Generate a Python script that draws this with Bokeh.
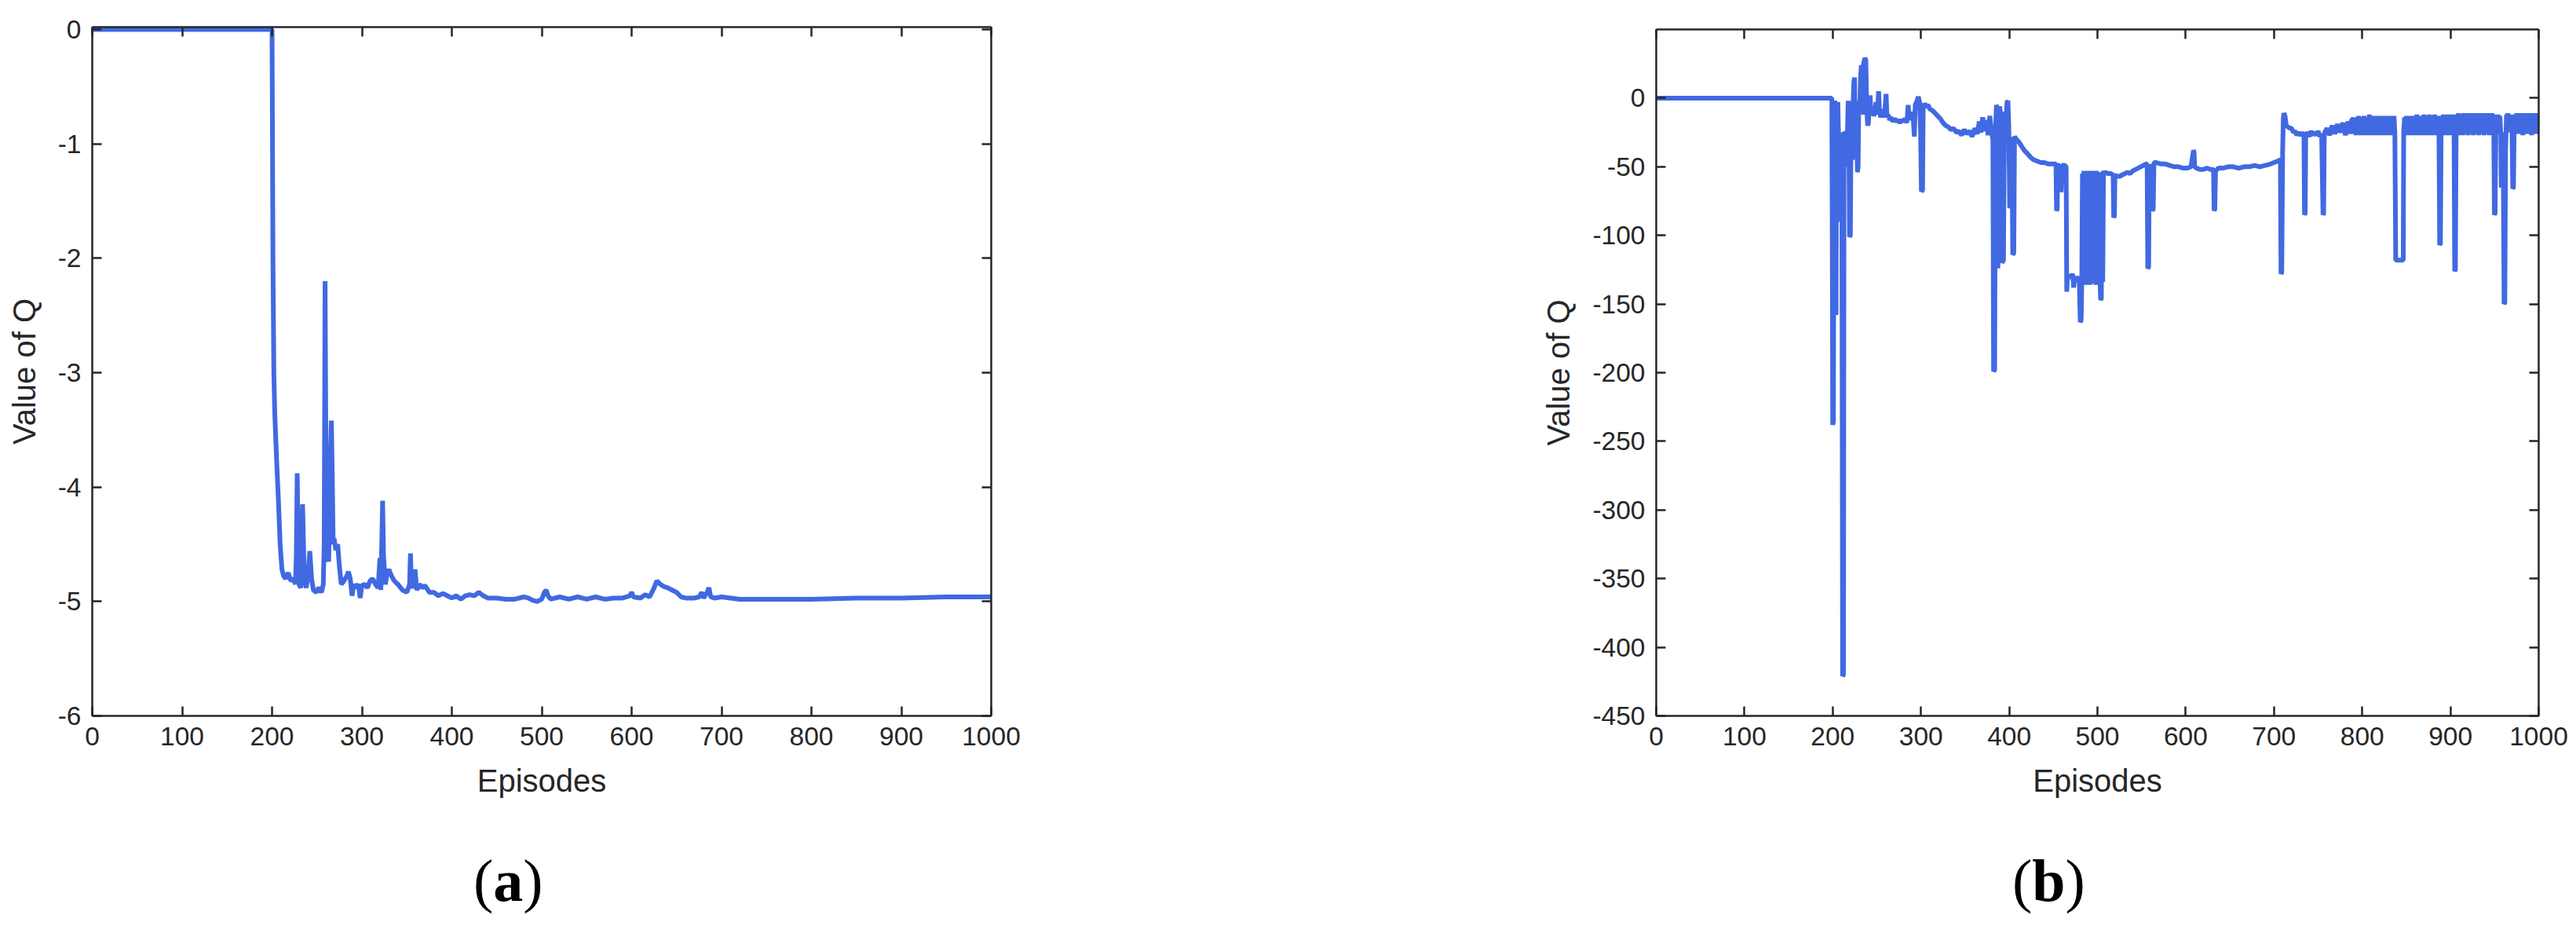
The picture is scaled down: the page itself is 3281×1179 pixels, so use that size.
from bokeh.plotting import figure
from bokeh.layouts import row, column
from bokeh.models import LinearAxis, FixedTicker, Range1d, Div
from bokeh.embed import file_html
from bokeh.resources import INLINE

# ---------------- data ----------------
ep_a = [0, 200, 201, 202, 203, 205, 207, 209, 211, 213, 215, 218, 221, 224, 226, 227, 228, 229, 230, 232, 233,
        234, 235, 236, 238, 240, 242, 244, 246, 249, 252, 255, 257, 258, 259, 260, 261, 263, 264, 265, 266,
        267, 268, 269, 271, 273, 275, 277, 280, 283, 285, 287, 289, 291, 293, 296, 298, 300, 303, 306, 309,
        312, 315, 318, 320, 321, 323, 324, 326, 328, 330, 333, 336, 340, 345, 350, 353, 354, 355, 357, 359,
        361, 364, 367, 370, 375, 380, 385, 390, 395, 400, 405, 410, 415, 420, 425, 430, 435, 440, 450, 460,
        470, 480, 485, 490, 495, 500, 503, 505, 507, 510, 520, 530, 540, 550, 560, 570, 580, 590, 598, 600,
        602, 610, 615, 620, 625, 628, 632, 636, 640, 645, 650, 655, 660, 670, 675, 678, 680, 684, 686, 688,
        692, 700, 710, 720, 750, 800, 850, 900, 950, 1000]
q_a = [0, 0, -2.0, -3.0, -3.35, -3.75, -4.1, -4.5, -4.72, -4.78, -4.8, -4.75, -4.82, -4.8, -4.85, -4.6, -3.88, -4.5, -4.85, -4.88, -4.45,
       -4.15, -4.5, -4.8, -4.88, -4.78, -4.56, -4.8, -4.9, -4.92, -4.88, -4.92, -4.85, -4.5, -2.2, -3.8, -4.6, -4.65, -4.2, -3.7, -3.42,
       -3.9, -4.5, -4.45, -4.55, -4.5, -4.7, -4.85, -4.82, -4.78, -4.74, -4.8, -4.95, -4.85, -4.88, -4.85, -4.97, -4.86, -4.85, -4.88, -4.82,
       -4.8, -4.85, -4.88, -4.62, -4.9, -4.12, -4.6, -4.85, -4.75, -4.72, -4.78, -4.82, -4.85, -4.9, -4.92, -4.85, -4.58, -4.85, -4.88, -4.72,
       -4.9, -4.85, -4.88, -4.86, -4.92, -4.92, -4.95, -4.93, -4.95, -4.97, -4.95, -4.98, -4.95, -4.94, -4.95, -4.92, -4.95, -4.97, -4.97, -4.98,
       -4.98, -4.96, -4.97, -4.99, -5.0, -4.98, -4.92, -4.9, -4.95, -4.98, -4.96, -4.98, -4.96, -4.98, -4.96, -4.98, -4.97, -4.97, -4.95, -4.92,
       -4.96, -4.97, -4.94, -4.96, -4.88, -4.82, -4.85, -4.87, -4.88, -4.9, -4.92, -4.96, -4.97, -4.97, -4.96, -4.92, -4.97, -4.92, -4.88, -4.96,
       -4.97, -4.96, -4.97, -4.98, -4.98, -4.98, -4.97, -4.97, -4.96, -4.96]

# panel (b), episodes 0 .. 788
ep_b1 = [0, 199, 199.5, 200, 200.8, 201.5, 202.5, 203, 203.8, 204.3, 205, 205.8, 206.5, 207.3, 208, 209, 209.6, 210.3, 211.2, 212.2,
         212.8, 214, 215, 216, 216.6, 217.5, 218.3, 219, 220, 220.8, 221.5, 222.3, 223, 224, 224.8, 225.5, 226.3, 227.2, 228, 228.8,
         229.5, 230.5, 231.5, 232.5, 233.3, 234, 235, 236.3, 237.5, 238.5, 239.5, 240.5, 241.3, 242.3, 243.2, 244.5, 245.5, 246.5, 248, 249,
         250, 251, 252, 253, 254.5, 256, 257.5, 259, 260.5, 261.5, 263, 264.5, 266, 268, 270, 272, 274, 276, 278, 280,
         282, 284, 285.5, 286.5, 288, 289.5, 291, 292.5, 293.5, 295, 297, 298.5, 299.5, 300.5, 301.8, 302.5, 304, 306, 308, 310,
         313, 316, 319, 322, 325, 328, 331, 334, 337, 340, 343, 346, 349, 352, 355, 358, 361, 364, 366, 368,
         370, 372, 374, 376, 378, 380, 381.5, 382.3, 383.5, 384.3, 385.5, 386.5, 387.2, 388, 389, 390, 391, 392, 393.5, 394.5,
         395.5, 396.5, 397.5, 398.5, 399.5, 400.5, 401.5, 402.3, 403, 404, 405.2, 406, 408, 411, 414, 417, 420, 424, 428, 432,
         436, 440, 444, 448, 451, 453, 453.6, 454.4, 455, 457, 458.2, 459, 459.8, 463, 464.5, 465.2, 466, 468, 470, 472,
         473, 474, 476, 478, 479.5, 480.5, 481.5, 482.2, 483, 483.8, 484.6, 485.4, 486.2, 487, 487.8, 488.6, 489.4, 490.2, 491, 491.8,
         492.6, 493.4, 494.2, 495, 495.8, 496.6, 497.4, 498.2, 499, 499.8, 500.6, 501.4, 502.2, 503, 503.6, 504.4, 505.2, 506, 506.8, 507.6,
         509, 512, 515, 517.8, 518.4, 519.2, 519.8, 522, 525, 528, 531, 534, 537, 540, 543, 546, 549, 552, 555, 556.3,
         557, 558, 558.6, 559.5, 562.3, 563.2, 564, 567, 572, 577, 582, 587, 592, 597, 602, 606, 608.8, 609.4, 610.2, 612,
         616, 620, 624, 628, 631.5, 632.2, 633, 633.8, 637, 642, 648, 654, 660, 666, 672, 678, 684, 690, 696, 700,
         704, 707.3, 708, 708.8, 709.8, 710.6, 711.3, 712.5, 714, 716, 718, 720, 722, 724, 726, 728, 730, 732, 734, 734.6,
         735.4, 736, 738, 740, 742, 744, 746, 748, 750, 752, 754, 755.6, 756.3, 757, 757.6, 760, 763, 766, 769, 772,
         775, 778, 781, 784, 786, 788]
q_b1 = [0, 0, -100, -238, -235, -3, -2, -60, -158, -25, -5, -3, -25, -90, -27, -26, -60, -25, -421, -420,
        -26, -25, -27, -50, -26, -2, -26, -101, -100, -20, -3, -45, -5, 12, 15, -40, -2, -20, -54, -50,
        -5, -12, 15, 24, 0, -12, 25, 29, 28, -5, -20, -18, -5, 2, -8, -12, -6, -13, -10, -3,
        -12, -8, 5, -10, -14, -8, -14, -10, 3, -14, -12, -16, -14, -17, -15, -17, -16, -18, -16, -17,
        -15, -18, -5, -14, -10, -16, -12, -28, -5, -3, 1, -3, -22, -68, -67, -8, -4, -6, -5, -8,
        -9, -11, -13, -15, -18, -20, -21, -23, -22, -25, -24, -27, -23, -26, -24, -28, -22, -26, -17, -25,
        -14, -24, -16, -27, -13, -25, -30, -199, -198, -25, -5, -8, -124, -30, -6, -10, -60, -120, -118, -20,
        -10, -15, -3, -2, -20, -80, -79, -30, -30, -114, -113, -28, -30, -32, -35, -38, -40, -43, -45, -46,
        -47, -47, -48, -48, -48, -48, -82, -81, -49, -49, -68, -67, -49, -49, -50, -141, -130, -129, -131, -128,
        -138, -132, -133, -130, -135, -163, -162, -135, -55, -135, -53, -134, -54, -136, -53, -133, -55, -135, -53, -136,
        -54, -134, -53, -135, -55, -133, -54, -136, -53, -134, -55, -135, -54, -136, -147, -146, -54, -134, -53, -55,
        -54, -55, -55, -56, -87, -86, -56, -57, -57, -56, -55, -54, -55, -53, -52, -51, -50, -49, -48, -48,
        -124, -123, -60, -48, -82, -81, -47, -47, -48, -48, -49, -50, -50, -51, -51, -50, -38, -39, -50, -51,
        -52, -52, -51, -52, -52, -82, -81, -53, -51, -51, -50, -50, -51, -50, -50, -49, -50, -49, -48, -47,
        -46, -45, -128, -127, -40, -15, -11, -13, -20, -21, -22, -22, -25, -24, -27, -25, -27, -26, -26, -85,
        -84, -27, -25, -28, -24, -27, -25, -27, -24, -28, -26, -85, -84, -27, -25, -22, -27, -20, -26, -19,
        -25, -18, -27, -17, -26, -16]

# panel (b), episodes 790 .. 1000 (dense oscillating band)
ep_b2 = [790, 791, 792, 793, 794, 795, 796, 797, 798, 799, 800, 801, 802, 803, 804, 805, 806, 807, 808, 809,
         810, 811, 812, 813, 814, 815, 816, 817, 818, 819, 820, 821, 822, 823, 824, 825, 826, 827, 828, 829,
         830, 831, 832, 833, 834, 835, 836, 837, 838, 846.5, 847, 848, 849, 850, 851, 852, 853, 854, 855, 856,
         857, 858, 859, 860, 861, 862, 863, 864, 865, 866, 867, 868, 869, 870, 871, 872, 873, 874, 875, 876,
         877, 878, 879, 880, 881, 882, 883, 884, 885, 886, 887, 887.8, 888.6, 889.4, 890, 891, 892, 893, 894, 895,
         896, 897, 898, 899, 900, 901, 902, 903, 904, 904.8, 905.6, 906.4, 907, 908, 909, 910, 911, 912, 913, 914,
         915, 916, 917, 918, 919, 920, 921, 922, 923, 924, 925, 926, 927, 928, 929, 930, 931, 932, 933, 934,
         935, 936, 937, 938, 939, 940, 941, 942, 943, 944, 945, 946, 947, 948, 949, 949.8, 950.6, 951.4, 952, 953,
         954, 955, 956, 957, 957.6, 958.6, 959.6, 960.8, 961.6, 962.4, 963.5, 964, 965, 966, 967, 968, 969, 969.8, 970.6, 971.4,
         972.2, 973, 974, 975, 976, 977, 978, 979, 980, 981, 982, 983, 984, 985, 986, 987, 988, 989, 990, 991,
         992, 993, 994, 995, 996, 997, 998, 999, 1000]
q_b2 = [-15, -26, -14, -27, -16, -25, -13, -27, -15, -26, -14, -27, -13, -25, -15, -27, -14, -26, -12, -27,
        -15, -26, -13, -27, -14, -25, -13, -27, -15, -26, -13, -27, -14, -26, -13, -27, -15, -26, -13, -27,
        -14, -25, -13, -27, -14, -26, -13, -25, -118, -118, -25, -14, -26, -13, -27, -14, -25, -13, -27, -15,
        -26, -13, -27, -14, -26, -12, -27, -14, -25, -13, -27, -14, -26, -12, -27, -13, -26, -14, -27, -12,
        -25, -13, -27, -14, -26, -12, -27, -13, -25, -13, -26, -107, -106, -25, -13, -26, -12, -27, -13, -25,
        -12, -27, -14, -26, -12, -27, -13, -25, -12, -126, -125, -25, -12, -26, -11, -27, -13, -25, -12, -27,
        -11, -26, -13, -25, -11, -27, -12, -26, -11, -25, -13, -27, -11, -26, -12, -25, -11, -27, -12, -26,
        -11, -25, -13, -27, -11, -26, -12, -25, -11, -27, -12, -26, -11, -25, -12, -85, -84, -25, -12, -26,
        -12, -25, -13, -25, -65, -64, -25, -150, -149, -40, -12, -24, -11, -25, -12, -24, -12, -25, -66, -65,
        -20, -12, -26, -11, -25, -12, -26, -11, -25, -12, -27, -11, -26, -12, -25, -11, -26, -12, -25, -11,
        -27, -12, -26, -11, -25, -12, -26, -11, -22]

x_ticks = [0, 100, 200, 300, 400, 500, 600, 700, 800, 900, 1000]
x_tick_labels = ["0", "100", "200", "300", "400", "500", "600", "700", "800", "900", "1000"]
y_ticks_a = [0, -1, -2, -3, -4, -5, -6]
y_tick_labels_a = ["0", "-1", "-2", "-3", "-4", "-5", "-6"]
y_ticks_b = [0, -50, -100, -150, -200, -250, -300, -350, -400, -450]
y_tick_labels_b = ["0", "-50", "-100", "-150", "-200", "-250", "-300", "-350", "-400", "-450"]

BLUE = "#4169E1"
INK = "#262626"
FIG_H = 1045
CAP_H = 130


def style_axis(ax, ticks, labels=None, label_standoff=14):
    ax.ticker = FixedTicker(ticks=ticks)
    ax.axis_line_color = INK
    ax.axis_line_width = 2.5
    ax.major_tick_line_color = INK
    ax.major_tick_line_width = 2.5
    ax.major_tick_in = 12
    ax.major_tick_out = 0
    ax.minor_tick_line_color = None
    ax.major_label_text_font = "Liberation Sans"
    ax.axis_label_text_font = "Liberation Sans"
    ax.axis_label_text_font_style = "normal"
    ax.axis_label_text_font_size = "40px"
    ax.axis_label_text_color = INK
    if labels is not None:
        ax.major_label_overrides = dict(zip(ticks, labels))
        ax.major_label_text_color = INK
        ax.major_label_text_font_size = "33.5px"
        ax.major_label_standoff = 14
        ax.axis_label_standoff = label_standoff
    else:
        ax.major_label_text_color = None
        ax.major_label_text_font_size = "0px"
        ax.major_label_standoff = 0


def make_panel(width, border_left, border_right, border_top, yr, yticks, ylabels, xs, ys):
    p = figure(width=width, height=FIG_H, x_range=Range1d(0, 1000), y_range=Range1d(*yr),
               output_backend="svg", toolbar_location=None,
               min_border_left=border_left, min_border_right=border_right,
               min_border_top=border_top, min_border_bottom=FIG_H - 911)
    p.grid.visible = False
    p.outline_line_color = None
    p.line(xs, ys, line_width=6, line_color=BLUE)
    style_axis(p.xaxis[0], x_ticks, x_tick_labels, label_standoff=20)
    style_axis(p.yaxis[0], yticks, ylabels, label_standoff=18)
    p.xaxis[0].axis_label = "Episodes"
    p.yaxis[0].axis_label = "Value of Q"
    top = LinearAxis()
    style_axis(top, x_ticks)
    p.add_layout(top, "above")
    right = LinearAxis()
    style_axis(right, yticks)
    p.add_layout(right, "right")
    return p


def caption(letter, width, pad_left):
    html = ('<div style="font-family:\'Liberation Serif\',serif;font-size:76px;line-height:76px;'
            'padding-top:38px;padding-left:%dpx;color:#000;white-space:nowrap;margin:0">'
            '(<b>%s</b>)</div>' % (pad_left, letter))
    return Div(text=html, width=width, height=CAP_H, margin=0)


W1, W2 = 1640, 1635
# panel (a): frame x 117..1262, y 34..911 (value 0 at y=37)
p1 = make_panel(W1, 117, W1 - 117 - 1145, 34, (-6, 0.02), y_ticks_a, y_tick_labels_a, ep_a, q_a)
# panel (b): frame x 2109..3233, y 37..911
p2 = make_panel(W2, 2109 - W1, W2 - (2109 - W1) - 1124, 37, (-450, 50), y_ticks_b, y_tick_labels_b,
                ep_b1 + ep_b2, q_b1 + q_b2)

layout = row(column(p1, caption("a", W1, 603)), column(p2, caption("b", W2, 2563 - W1)))
open("out.html", "w").write(file_html(layout, INLINE))
